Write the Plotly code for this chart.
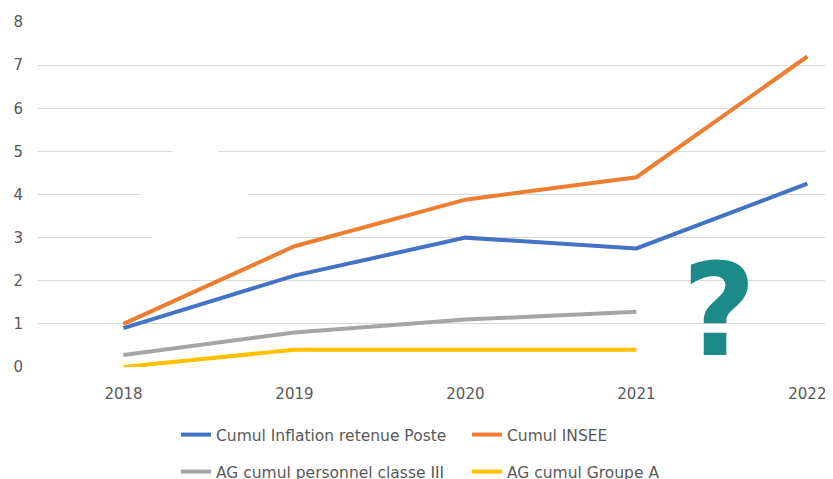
import plotly.graph_objects as go

years = ["2018", "2019", "2020", "2021", "2022"]
blue_vals = [0.9, 2.12, 3.0, 2.75, 4.25]
orange_vals = [1.0, 2.8, 3.88, 4.4, 7.2]
gray_vals = [0.28, 0.8, 1.1, 1.28, None]
yellow_vals = [0.0, 0.4, 0.4, 0.4, None]

names = ["Cumul Inflation retenue Poste", "Cumul INSEE",
         "AG cumul personnel classe III", "AG cumul Groupe A"]
colors = ["#4472C4", "#ED7D31", "#A5A5A5", "#FFC000"]
legends = ["legend", "legend", "legend2", "legend2"]
series = [blue_vals, orange_vals, gray_vals, yellow_vals]

# page body has an 8px margin: figure occupies window pixels 8..833, 8..479
OFF = 8
W, H = 833 - OFF, 479 - OFF
ML, MR, MT, MB = 38 - OFF, 0, 22 - OFF, 479 - 367
PW, PH = W - ML - MR, H - MT - MB

fig = go.Figure()
for n, c, v, lg in zip(names, colors, series, legends):
    fig.add_trace(go.Scatter(x=years, y=v, name=n, mode="lines",
                             line=dict(color=c, width=4), legend=lg))

def px2paper(px, py):
    return (px - OFF - ML) / PW, (H - MB - (py - OFF)) / PH

blob = [(173, 151), (195, 147), (218, 151), (240, 175), (248, 196), (245, 220),
        (237, 238), (220, 246), (165, 246), (152, 238), (143, 218), (140, 196), (150, 172)]
path = "M " + " L ".join("%.4f,%.4f" % px2paper(x, y) for x, y in blob) + " Z"

font = dict(family="DejaVu Sans", size=15, color="#595959")
lfont = dict(family="DejaVu Sans", size=15.5, color="#595959")
leg_x = (176 - OFF) / W
fig.update_layout(
    width=W, height=H,
    margin=dict(l=ML, r=MR, t=MT, b=MB),
    paper_bgcolor="white", plot_bgcolor="white",
    font=font,
    showlegend=True,
    xaxis=dict(type="category", range=[-0.5, 4.15], showgrid=False, zeroline=False,
               showline=False, ticks="", tickfont=font, ticklabelstandoff=16),
    yaxis=dict(range=[0, 8], dtick=1, showgrid=True, gridcolor="#D9D9D9", gridwidth=1,
               zeroline=False, showline=False, ticks="", tickfont=font,
               ticklabelstandoff=14),
    legend=dict(orientation="h", xref="container", yref="container",
                x=leg_x, y=1 - (435 - OFF) / H, xanchor="left", yanchor="middle",
                entrywidth=246, entrywidthmode="pixels", font=lfont,
                bgcolor="rgba(0,0,0,0)"),
    legend2=dict(orientation="h", xref="container", yref="container",
                 x=leg_x, y=1 - (472 - OFF) / H, xanchor="left", yanchor="middle",
                 entrywidth=246, entrywidthmode="pixels", font=lfont,
                 bgcolor="rgba(0,0,0,0)"),
    shapes=[dict(type="path", path=path, xref="paper", yref="paper",
                 fillcolor="white", line=dict(width=0), layer="above")],
    annotations=[dict(text="<b>?</b>", xref="paper", yref="paper",
                      x=px2paper(719, 0)[0], y=px2paper(0, 310)[1],
                      xanchor="center", yanchor="middle", showarrow=False,
                      font=dict(family="DejaVu Sans", size=128, color="#1D8A8A"))],
)

fig.write_html("out.html")
